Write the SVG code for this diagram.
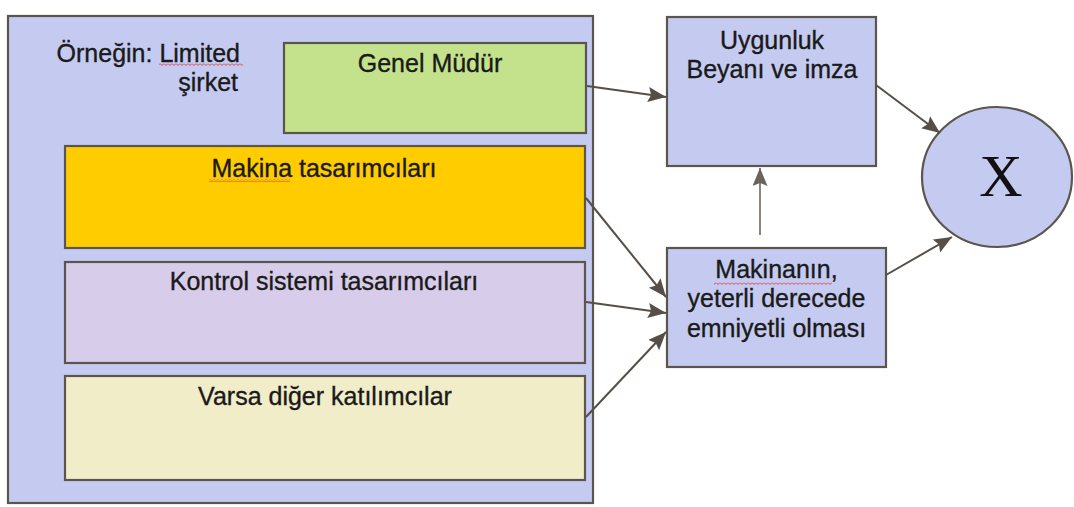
<svg xmlns="http://www.w3.org/2000/svg" width="1074" height="507" viewBox="0 0 1074 507">
<style>
.box{stroke:#5a564e;stroke-width:2.2}
.t{font-family:"Liberation Sans",Arial,sans-serif;font-size:25px;fill:#1a1a1a;stroke:#1a1a1a;stroke-width:0.35}
.c{text-anchor:middle}
.conn{stroke:#564f47;stroke-width:2;fill:none;marker-end:url(#ah)}
</style>
<defs>
<marker id="ah" markerUnits="userSpaceOnUse" markerWidth="19" markerHeight="16" refX="18" refY="7.5" orient="auto">
<path d="M0,0 L18,7.5 L0,15 L3,7.5 z" fill="#564f47"/>
</marker>
<marker id="ah2" markerUnits="userSpaceOnUse" markerWidth="19" markerHeight="16" refX="18" refY="7.5" orient="auto">
<path d="M0,0 L18,7.5 L0,15 L3,7.5 z" fill="#6a645c"/>
</marker>
<pattern id="wave" width="4" height="3" patternUnits="userSpaceOnUse">
<path d="M0,0.5 L2,2.5 L4,0.5" stroke="#e02020" stroke-width="0.8" fill="none"/>
</pattern>
</defs>
<g id="company">
<rect class="box" x="8" y="16" width="585" height="487" fill="#c5cbf0"/>
<text class="t" text-anchor="end" x="240" y="62">Örneğin: Limited</text>
<text class="t" text-anchor="end" x="238" y="91">şirket</text>
<rect x="159" y="63" width="84" height="3" fill="url(#wave)"/>
</g>
<g id="genel-mudur">
<rect class="box" x="284" y="43" width="302" height="90" fill="#c4e28b"/>
<text class="t c" x="430" y="72">Genel Müdür</text>
</g>
<g id="makina-tasarimcilari">
<rect class="box" x="65" y="146" width="520" height="102" fill="#ffcc00"/>
<text class="t c" x="324" y="177">Makina tasarımcıları</text>
<rect x="209" y="179" width="81" height="3" fill="url(#wave)"/>
</g>
<g id="kontrol-sistemi">
<rect class="box" x="65" y="262" width="520" height="101" fill="#d7cdea"/>
<text class="t c" x="324" y="290">Kontrol sistemi tasarımcıları</text>
</g>
<g id="diger-katilimcilar">
<rect class="box" x="65" y="376" width="520" height="104" fill="#f0edc8"/>
<text class="t c" x="325" y="405">Varsa diğer katılımcılar</text>
</g>
<g id="uygunluk-beyani">
<rect class="box" x="667" y="17" width="209" height="149" fill="#c5cbf0"/>
<text class="t c" x="772" y="49">Uygunluk</text>
<text class="t c" x="772" y="78">Beyanı ve imza</text>
</g>
<g id="emniyet">
<rect class="box" x="667" y="248" width="219" height="119" fill="#c5cbf0"/>
<text class="t c" x="776.5" y="278">Makinanın,</text>
<text class="t c" x="776.5" y="307">yeterli derecede</text>
<text class="t c" x="776.5" y="337">emniyetli olması</text>
<rect x="714" y="282" width="118" height="3" fill="url(#wave)"/>
</g>
<g id="x-node">
<ellipse class="box" cx="997" cy="177" rx="75" ry="70" fill="#c5cbf0"/>
<text x="1001" y="196" text-anchor="middle" font-family="'Liberation Serif','Times New Roman',serif" font-size="60" fill="#111">X</text>
</g>
<g id="connectors">
<path class="conn" d="M587,86 L666,97"/>
<path class="conn" d="M586,198 L666,297"/>
<path class="conn" d="M586,302 L666,313"/>
<path class="conn" d="M586,417 L666,332"/>
<path class="conn" d="M876,85 L940,133"/>
<path class="conn" d="M886,275 L952,237"/>
<path d="M760,235 L760,168" stroke="#8a857e" stroke-width="2" fill="none" marker-end="url(#ah2)"/>
</g>
</svg>
